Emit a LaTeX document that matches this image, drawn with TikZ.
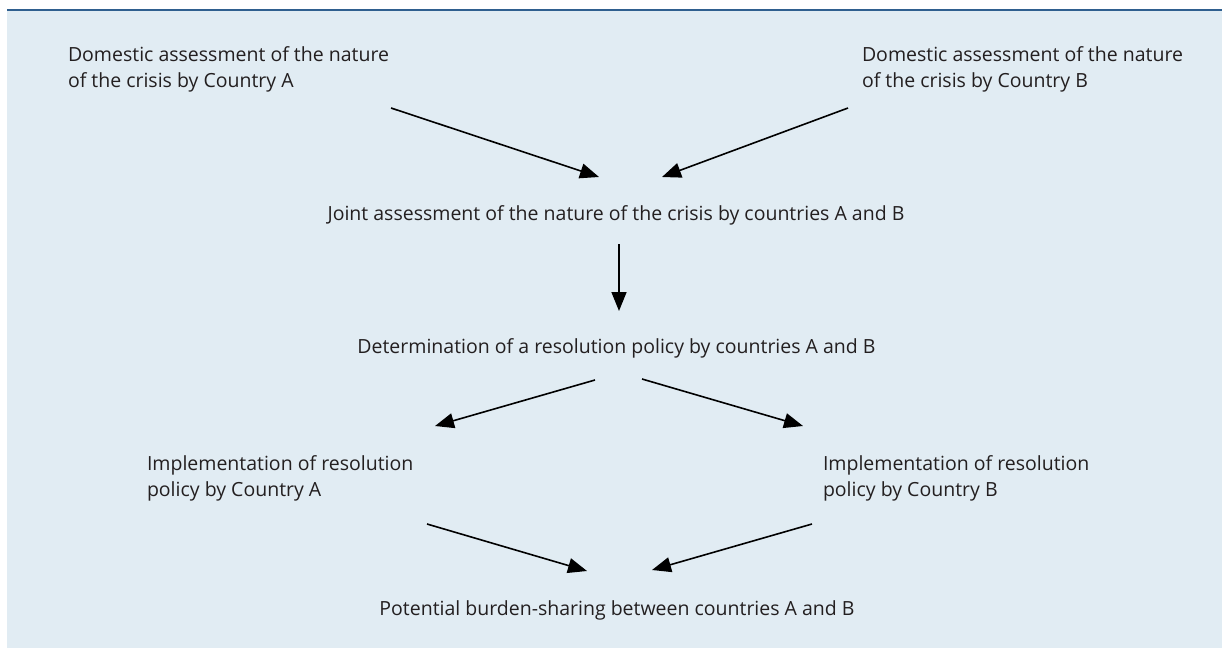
\documentclass[tikz,border=0pt]{standalone}
\usepackage{fontspec}
\setmainfont{Open Sans}
\usetikzlibrary{arrows.meta}
\definecolor{panelbg}{HTML}{E1ECF3}
\definecolor{ruleblue}{HTML}{2F5F8F}
\definecolor{txt}{HTML}{231F20}
\begin{document}
\begin{tikzpicture}[x=1pt,y=-1pt,
  label/.style={inner sep=0pt,outer sep=0pt,text=txt,align=left,
    font=\fontsize{19.5}{26.5}\selectfont},
  flow/.style={line width=1.6pt,-{Triangle[length=19pt,width=15pt]}}]
  \useasboundingbox (0,0) rectangle (1222,648);
  % panel and top rule
  \fill[panelbg] (7,9) rectangle (1222,648);
  \draw[ruleblue,line width=2pt] (7,10) -- (1222,10);

  % text blocks (two-line blocks are anchored at their last baseline)
  \node[label,anchor=base west] (domA) at (68,87.5)
    {Domestic assessment of the nature\\of the crisis by Country A};
  \node[label,anchor=base west] (domB) at (862,87.5)
    {Domestic assessment of the nature\\of the crisis by Country B};
  \node[label,anchor=base] (joint) at (616,220)
    {Joint assessment of the nature of the crisis by countries A and B};
  \node[label,anchor=base] (determ) at (616.5,353)
    {Determination of a resolution policy by countries A and B};
  \node[label,anchor=base west] (implA) at (147,496.5)
    {Implementation of resolution\\policy by Country A};
  \node[label,anchor=base west] (implB) at (823,496.5)
    {Implementation of resolution\\policy by Country B};
  \node[label,anchor=base] (burden) at (617,615)
    {Potential burden-sharing between countries A and B};

  % arrow end points
  \coordinate (a1s) at (391,108);  \coordinate (a1e) at (599,177);
  \coordinate (a2s) at (848,108);  \coordinate (a2e) at (662,177);
  \coordinate (a3s) at (619,244);  \coordinate (a3e) at (619,311);
  \coordinate (a4s) at (595,380);  \coordinate (a4e) at (435,426);
  \coordinate (a5s) at (642,379);  \coordinate (a5e) at (803,426);
  \coordinate (a6s) at (427,524);  \coordinate (a6e) at (587,571);
  \coordinate (a7s) at (812,524);  \coordinate (a7e) at (652,570);

  \draw[flow] (a1s) -- (a1e);
  \draw[flow] (a2s) -- (a2e);
  \draw[flow] (a3s) -- (a3e);
  \draw[flow] (a4s) -- (a4e);
  \draw[flow] (a5s) -- (a5e);
  \draw[flow] (a6s) -- (a6e);
  \draw[flow] (a7s) -- (a7e);
\end{tikzpicture}
\end{document}
